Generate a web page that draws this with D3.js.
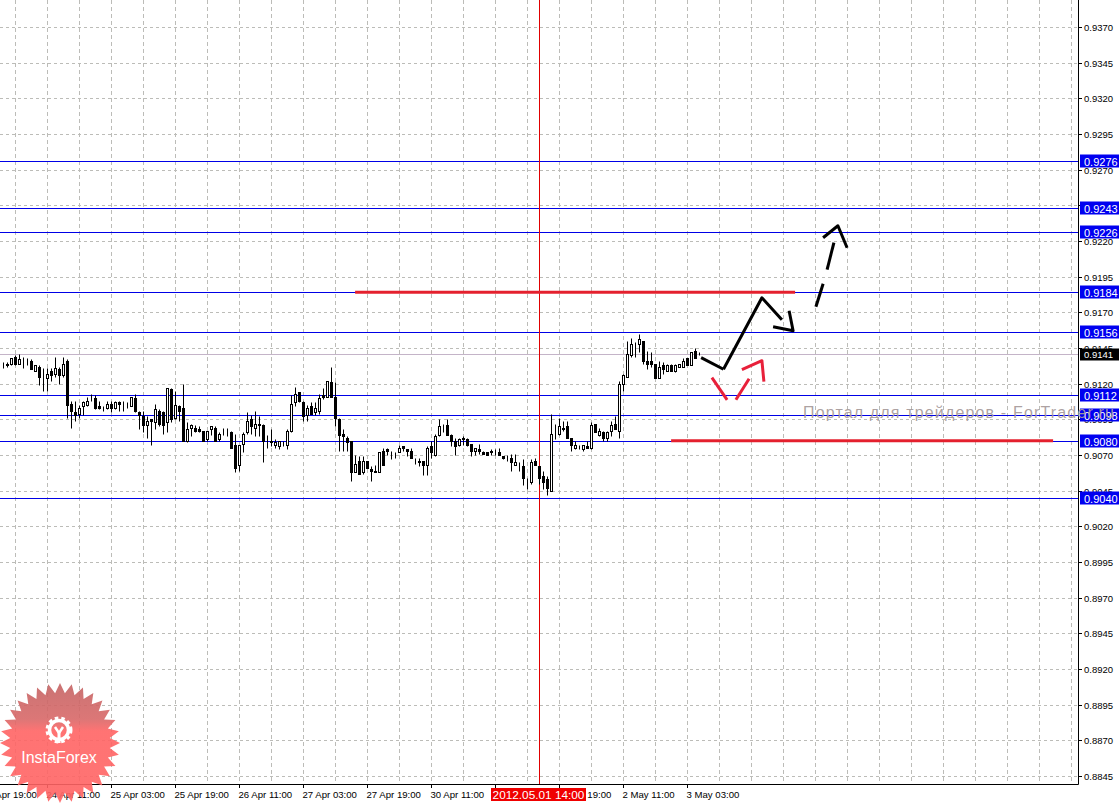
<!DOCTYPE html>
<html><head><meta charset="utf-8">
<script src="https://cdn.jsdelivr.net/npm/d3@7/dist/d3.min.js"></script>
<style>html,body{margin:0;padding:0;background:#fff;overflow:hidden}svg{display:block}text{font-family:"Liberation Sans",Arial,sans-serif}</style>
</head><body><div id="c"></div>
<script>
// prices are expressed in pips above 0.9000 (0.9141 -> 141)
const opens=[134,134,134,139,134,136,136,136,129,132,124,124,129,127,130,126,136,106,100,99,104,105,109,110,104,103,103,106,103,107,106,105,104,110,100,97,91,95,93,101,100,93,116,96,104,103,80,89,89,88,87,81,88,89,81,86,85,86,77,63,78,86,95,89,92,91,80,80,77,76,
78,77,87,107,114,107,98,104,100,101,112,111,121,111,95,85,82,80,58,66,58,66,60,59,58,73,74,72,71,72,76,74,73,67,66,66,63,76,70,84,90,91,84,80,77,81,81,78,73,74,72,72,72,73,72,69,69,68,63,64,62,53,51,66,62,55,53,45,86,85,
88,90,82,75,76,74,76,75,92,84,86,82,87,92,87,120,125,140,148,148,150,136,136,134,124,133,129,133,129,132,132,138,133,143,141];
const highs=[135,135,138,140,141,139,138,137,133,133,131,131,131,139,132,139,137,108,108,105,108,111,113,112,108,104,108,108,108,108,108,107,111,113,101,101,97,95,106,102,101,117,117,115,105,120,93,92,91,90,87,87,90,90,86,89,89,87,85,77,86,100,98,101,97,92,84,88,81,80,
80,88,112,118,114,108,105,107,107,113,117,122,132,121,96,88,83,80,70,69,69,66,62,63,72,75,75,73,72,77,76,74,75,68,68,66,76,80,85,95,92,95,85,82,82,83,82,78,75,78,73,72,74,74,75,69,70,71,71,65,67,54,67,68,62,59,55,99,92,96,
94,94,82,80,77,77,80,93,92,89,87,87,94,97,122,127,150,152,149,155,150,143,142,134,136,135,134,134,134,134,138,138,142,145,142];
const lows=[131,132,133,133,134,131,133,130,129,119,115,115,122,125,120,125,96,89,94,96,98,104,108,102,102,101,102,100,102,101,101,103,104,100,88,86,82,77,88,90,85,86,93,95,94,80,79,83,86,86,80,80,84,80,80,84,83,75,58,59,72,85,85,83,83,65,75,76,75,74,
76,74,86,104,107,94,94,99,98,99,109,111,111,90,73,73,73,52,58,57,57,61,52,58,58,63,70,67,68,72,73,69,68,64,62,56,56,68,69,83,86,84,76,70,76,77,76,69,70,71,71,70,70,70,70,67,66,59,63,59,49,46,50,63,50,46,42,45,81,84,
87,82,73,74,74,73,75,74,86,83,80,80,83,88,82,115,125,139,139,142,134,130,132,124,124,127,129,129,128,132,132,133,133,138,140];
const closes=[134,133,138,134,137,136,136,130,133,125,124,127,126,131,126,134,105,101,98,103,107,108,109,103,103,103,106,103,107,106,106,105,111,101,98,91,94,94,102,92,91,117,95,105,101,80,88,91,87,87,80,87,90,80,85,86,85,75,61,77,85,94,90,92,91,80,80,79,79,80,
78,87,106,113,108,97,103,99,103,110,111,122,111,96,84,83,79,58,64,57,66,61,59,58,72,63,73,72,71,75,75,73,68,67,65,63,75,72,83,90,90,84,80,76,81,82,77,73,75,73,71,70,73,73,70,68,69,65,65,64,54,53,65,63,54,51,47,85,86,90,
89,82,77,77,76,77,75,91,86,87,82,86,91,88,120,126,141,148,148,151,136,134,134,124,132,130,133,129,133,134,136,133,142,138,141];

const priceTicks=d3.range(0,22).map(i=>370-25*i);            // 0.9370 … 0.8845
const levels=[276,243,226,184,156,112,98,80,40];
const lastPrice=141;
const timeTicks=[[-5,"23 Apr 19:00"],[11,"24 Apr 11:00"],[27,"25 Apr 03:00"],[43,"25 Apr 19:00"],[59,"26 Apr 11:00"],[75,"27 Apr 03:00"],[91,"27 Apr 19:00"],[107,"30 Apr 11:00"],[123,"1 May 03:00"],[139,"1 May 19:00"],[155,"2 May 11:00"],[171,"3 May 03:00"]];
const crossBar=134, crossLabel="2012.05.01 14:00";
const redLevels=[[87.9,197.9,184],[166.9,262.4,80]];
const blackStrokes=[[[174.4,138.2],[180,130.1]],[[180,130.1],[189.6,180.2],[194.6,164.8]],[[192.4,159.9],[197.4,157.1],[196.4,171.1]],[[203.1,173.9],[204.9,190]],[[205.9,199.9],[207.6,218.8]],[[204.9,222.3],[208.6,230.7],[210.9,215.3]]];
const redStrokes=[[[177.1,124.2],[180.9,108.7]],[[183.1,108.7],[186.4,123.5]],[[184.6,129.8],[189.6,136.1],[190.1,121.4]]];

const W=1119,H=804,axisX=1078,axisY=784;
const x=d3.scaleLinear().domain([0,268.625]).range([3.5,axisX]);
const y=d3.scaleLinear().domain([370,-155]).range([27,776]);
const py=v=>Math.round(y(v))+.5;
const fmt=v=>(0.9+v/10000).toFixed(4);
const svg=d3.select("#c").append("svg").attr("width",W).attr("height",H);
const plot=svg.append("g");
const gridC="#bcbcb8";

// grid
const gridBars=d3.range(3,270,8).filter(k=>x(k)<axisX);
plot.append("g").selectAll("line").data(gridBars).join("line").attr("x1",x).attr("x2",x).attr("y1",0).attr("y2",axisY)
 .attr("stroke",gridC).attr("stroke-dasharray","4,3");
plot.append("g").selectAll("line").data(priceTicks).join("line").attr("x1",0).attr("x2",axisX).attr("y1",py).attr("y2",py)
 .attr("stroke",gridC).attr("stroke-dasharray","3,3");
// bid line
plot.append("line").attr("x1",0).attr("x2",axisX).attr("y1",py(lastPrice)).attr("y2",py(lastPrice)).attr("stroke","#c4b4c8");
// levels
plot.append("g").selectAll("line").data(levels).join("line").attr("x1",0).attr("x2",axisX).attr("y1",py).attr("y2",py).attr("stroke","#0000e6");
// crosshair
plot.append("line").attr("x1",x(crossBar)).attr("x2",x(crossBar)).attr("y1",0).attr("y2",axisY).attr("stroke","#e00000");

// candles
const candles=d3.range(opens.length).map(i=>({i,o:opens[i],h:highs[i],l:lows[i],c:closes[i]}));
const cg=plot.append("g").selectAll("g").data(candles).join("g");
cg.append("line").attr("x1",d=>x(d.i)).attr("x2",d=>x(d.i)).attr("y1",d=>py(d.h)).attr("y2",d=>py(d.l)).attr("stroke","#000");
cg.append("rect").attr("x",d=>x(d.i)-1).attr("width",2)
 .attr("y",d=>py(Math.max(d.o,d.c))).attr("height",d=>Math.abs(py(d.o)-py(d.c)))
 .attr("fill",d=>d.c>d.o?"#fff":"#000").attr("stroke","#000").attr("shape-rendering","crispEdges");

// annotations
const line=d3.line().x(d=>x(d[0])).y(d=>y(d[1]));
plot.append("g").selectAll("line").data(redLevels).join("line").attr("x1",d=>x(d[0])).attr("x2",d=>x(d[1])).attr("y1",d=>y(d[2])).attr("y2",d=>y(d[2])).attr("stroke","#e4202e").attr("stroke-width",3);
plot.append("g").selectAll("path").data(blackStrokes).join("path").attr("d",line).attr("fill","none").attr("stroke","#000").attr("stroke-width",3).attr("stroke-linejoin","round");
plot.append("g").selectAll("path").data(redStrokes).join("path").attr("d",line).attr("fill","none").attr("stroke","#e8203a").attr("stroke-width",3).attr("stroke-linejoin","round");

// axes
svg.append("rect").attr("x",axisX+1).attr("y",0).attr("width",W-axisX).attr("height",H).attr("fill","#fff");
svg.append("rect").attr("x",0).attr("y",axisY+1).attr("width",W).attr("height",H-axisY).attr("fill","#fff");
svg.append("line").attr("x1",axisX+.5).attr("x2",axisX+.5).attr("y1",0).attr("y2",axisY+.5).attr("stroke","#000");
svg.append("line").attr("x1",0).attr("x2",axisX+.5).attr("y1",axisY+.5).attr("y2",axisY+.5).attr("stroke","#000");
const pt=svg.append("g").selectAll("g").data(priceTicks).join("g");
pt.append("line").attr("x1",axisX).attr("x2",axisX+4).attr("y1",py).attr("y2",py).attr("stroke","#000");
pt.append("text").attr("x",axisX+6).attr("y",d=>py(d)+3.5).attr("font-size",9.5).attr("fill","#000").text(fmt);
const tt=svg.append("g").selectAll("g").data(timeTicks).join("g");
tt.append("line").attr("x1",d=>x(d[0])).attr("x2",d=>x(d[0])).attr("y1",axisY).attr("y2",axisY+4).attr("stroke","#000");
tt.append("text").attr("x",d=>x(d[0])-1).attr("y",798).attr("font-size",9.6).attr("fill","#000").text(d=>d[1]);
svg.append("rect").attr("x",491).attr("y",788).attr("width",95).attr("height",13).attr("fill","#f00000");
svg.append("text").attr("x",x(crossBar)-1).attr("y",798.5).attr("text-anchor","middle").attr("font-size",11.8).attr("fill","#fff").text(crossLabel);

// level labels
const lab=svg.append("g").selectAll("g").data(levels).join("g");
lab.append("rect").attr("x",axisX+2).attr("width",W-axisX-2).attr("y",d=>py(d)-7).attr("height",13).attr("fill","#0000f0");
lab.append("text").attr("x",axisX+6).attr("y",d=>py(d)+4).attr("font-size",11).attr("fill","#fff").text(fmt);
svg.append("rect").attr("x",axisX+2).attr("width",W-axisX-2).attr("y",py(lastPrice)-6).attr("height",12).attr("fill","#000");
svg.append("text").attr("x",axisX+6).attr("y",py(lastPrice)+3.5).attr("font-size",9.5).attr("fill","#fff").text(fmt(lastPrice));

// watermark
svg.append("text").attr("x",803).attr("y",418).attr("font-size",16).attr("fill","#a89c9c").attr("fill-opacity",.95).attr("textLength",311).attr("lengthAdjust","spacing").text("Портал для трейдеров - ForTrader.ru");

// logo
const cx=60,cy=743,n=32;
const star=d3.range(n*2).map(i=>{const r=i%2?50:60,a=i*Math.PI/n;return [cx+r*Math.sin(a),cy-r*Math.cos(a)];});
const defs=svg.append("defs");
const grad=defs.append("linearGradient").attr("id","lg").attr("x1",0).attr("x2",0).attr("y1",0).attr("y2",1);
grad.append("stop").attr("offset","0").attr("stop-color","#c46464");
grad.append("stop").attr("offset","0.3").attr("stop-color","#d86868");
grad.append("stop").attr("offset","0.4").attr("stop-color","#ff6464");
grad.append("stop").attr("offset","1").attr("stop-color","#ff6464");
const logo=svg.append("g");
logo.append("polygon").attr("points",star.join(" ")).attr("fill","url(#lg)").attr("fill-opacity",.9);
logo.append("circle").attr("cx",cx-1).attr("cy",730).attr("r",9.5).attr("fill","none").attr("stroke","#fff").attr("stroke-width",3.5);
logo.append("circle").attr("cx",cx-1).attr("cy",730).attr("r",12).attr("fill","none").attr("stroke","#fff").attr("stroke-width",3).attr("stroke-dasharray","3.5,3");
logo.append("path").attr("d",`M${cx-5} 727L${cx-1} 733L${cx+3} 727`).attr("fill","none").attr("stroke","#fff").attr("stroke-width",2.5);
logo.append("rect").attr("x",cx-2.5).attr("y",732).attr("width",3).attr("height",11).attr("fill","#fff");
logo.append("text").attr("x",cx-1).attr("y",763).attr("text-anchor","middle").attr("font-size",16).attr("fill","#fff").text("InstaForex");
</script></body></html>
